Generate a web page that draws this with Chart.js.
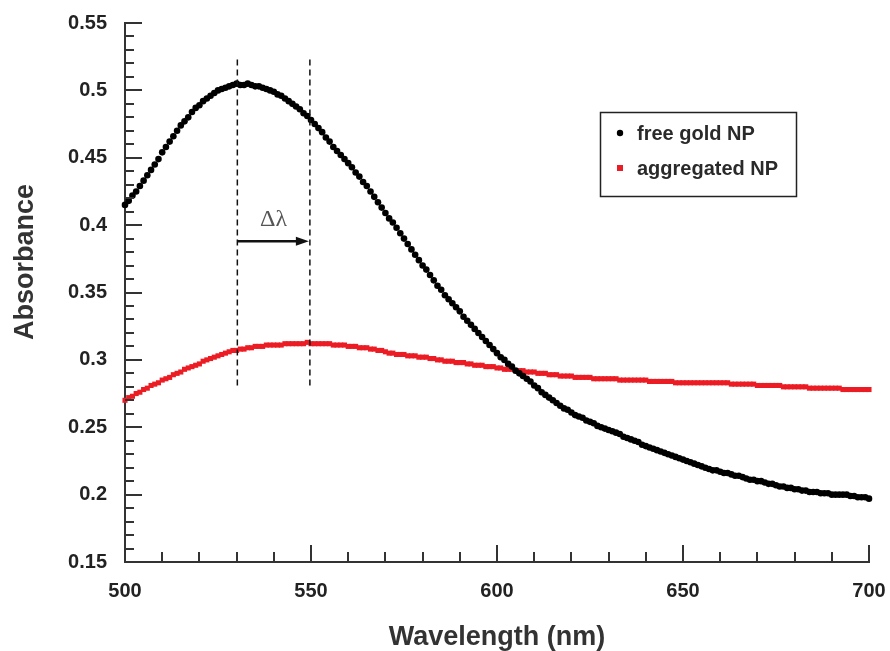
<!DOCTYPE html>
<html>
<head>
<meta charset="utf-8">
<title>Absorbance spectra</title>
<script src="https://cdn.jsdelivr.net/npm/chart.js@4.4.1/dist/chart.umd.min.js"></script>
<style>
  html, body { margin: 0; padding: 0; background: #fff; }
  canvas { display: block; }
</style>
</head>
<body>
<canvas id="spectrum" width="890" height="651"></canvas>
<script>
// one reading per nm, starting at 500 nm
var wavelengthStart = 500;

var freeGoldNP = [
  0.415, 0.418, 0.422, 0.425, 0.429, 0.433, 0.437, 0.441, 0.445, 0.449,
  0.454, 0.458, 0.462, 0.466, 0.470, 0.474, 0.477, 0.480, 0.484, 0.487,
  0.489, 0.492, 0.494, 0.496, 0.498, 0.500, 0.501, 0.502, 0.503, 0.504,
  0.505, 0.504, 0.504, 0.505, 0.504, 0.503, 0.503, 0.502, 0.501, 0.500,
  0.499, 0.497, 0.496, 0.494, 0.492, 0.490, 0.488, 0.486, 0.483, 0.481,
  0.478, 0.475, 0.472, 0.469, 0.465, 0.462, 0.458, 0.455, 0.452, 0.449,
  0.446, 0.443, 0.439, 0.436, 0.432, 0.429, 0.425, 0.421, 0.417, 0.413,
  0.409, 0.405, 0.402, 0.398, 0.394, 0.390, 0.386, 0.382, 0.378, 0.374,
  0.370, 0.367, 0.363, 0.359, 0.355, 0.352, 0.348, 0.345, 0.342, 0.339,
  0.336, 0.332, 0.329, 0.326, 0.323, 0.320, 0.317, 0.314, 0.311, 0.308,
  0.305, 0.302, 0.300, 0.297, 0.295, 0.292, 0.290, 0.288, 0.286, 0.284,
  0.281, 0.279, 0.276, 0.274, 0.272, 0.270, 0.268, 0.266, 0.264, 0.263,
  0.261, 0.259, 0.258, 0.257, 0.255, 0.254, 0.253, 0.251, 0.250, 0.249,
  0.248, 0.247, 0.246, 0.245, 0.243, 0.242, 0.241, 0.240, 0.239, 0.237,
  0.236, 0.235, 0.234, 0.233, 0.232, 0.231, 0.230, 0.229, 0.228, 0.227,
  0.226, 0.225, 0.224, 0.223, 0.222, 0.221, 0.220, 0.219, 0.218, 0.218,
  0.217, 0.216, 0.216, 0.215, 0.214, 0.214, 0.213, 0.212, 0.211, 0.211,
  0.210, 0.210, 0.209, 0.208, 0.208, 0.207, 0.206, 0.206, 0.205, 0.205,
  0.204, 0.204, 0.203, 0.203, 0.202, 0.202, 0.202, 0.201, 0.201, 0.201,
  0.200, 0.200, 0.200, 0.200, 0.200, 0.199, 0.199, 0.198, 0.198, 0.198,
  0.197
];

var aggregatedNP = [
  0.270, 0.272, 0.273, 0.275, 0.276, 0.278, 0.279, 0.281, 0.282, 0.283,
  0.285, 0.286, 0.287, 0.289, 0.290, 0.291, 0.293, 0.294, 0.295, 0.296,
  0.297, 0.299, 0.300, 0.301, 0.302, 0.303, 0.304, 0.305, 0.306, 0.307,
  0.307, 0.308, 0.308, 0.309, 0.309, 0.310, 0.310, 0.310, 0.311, 0.311,
  0.311, 0.311, 0.311, 0.312, 0.312, 0.312, 0.312, 0.312, 0.312, 0.313,
  0.312, 0.312, 0.312, 0.312, 0.312, 0.312, 0.311, 0.311, 0.311, 0.311,
  0.310, 0.310, 0.310, 0.309, 0.309, 0.309, 0.308, 0.308, 0.307, 0.307,
  0.306, 0.305, 0.305, 0.304, 0.304, 0.304, 0.303, 0.303, 0.303, 0.302,
  0.302, 0.302, 0.301, 0.301, 0.300, 0.300, 0.299, 0.299, 0.299, 0.298,
  0.298, 0.298, 0.297, 0.297, 0.296, 0.296, 0.296, 0.295, 0.295, 0.295,
  0.294, 0.294, 0.293, 0.293, 0.293, 0.292, 0.292, 0.292, 0.291, 0.291,
  0.291, 0.290, 0.290, 0.290, 0.289, 0.289, 0.289, 0.288, 0.288, 0.288,
  0.288, 0.287, 0.287, 0.287, 0.287, 0.287, 0.286, 0.286, 0.286, 0.286,
  0.286, 0.286, 0.286, 0.285, 0.285, 0.285, 0.285, 0.285, 0.285, 0.285,
  0.285, 0.284, 0.284, 0.284, 0.284, 0.284, 0.284, 0.284, 0.283, 0.283,
  0.283, 0.283, 0.283, 0.283, 0.283, 0.283, 0.283, 0.283, 0.283, 0.283,
  0.283, 0.283, 0.283, 0.282, 0.282, 0.282, 0.282, 0.282, 0.282, 0.282,
  0.281, 0.281, 0.281, 0.281, 0.281, 0.281, 0.281, 0.280, 0.280, 0.280,
  0.280, 0.280, 0.280, 0.280, 0.279, 0.279, 0.279, 0.279, 0.279, 0.279,
  0.279, 0.279, 0.279, 0.278, 0.278, 0.278, 0.278, 0.278, 0.278, 0.278,
  0.278
];

var xTickLabels = [500, 550, 600, 650, 700];
var yTickLabels = [0.15, 0.2, 0.25, 0.3, 0.35, 0.4, 0.45, 0.5, 0.55];

// peak positions marked by the dashed lines and the shift arrow
var peakFree = 530.2;
var peakAggregated = 549.7;

var labelFont = '"Liberation Sans", Arial, Helvetica, sans-serif';

function toPoints(values) {
    return values.map(function (v, i) {
        return { x: wavelengthStart + i, y: v };
    });
}

// small inward tick marks like the original plot
var insideTicks = {
    id: 'insideTicks',
    afterDatasetsDraw: function (chart) {
        var ctx = chart.ctx;
        var xs = chart.scales.x, ys = chart.scales.y;
        var area = chart.chartArea;
        ctx.save();
        ctx.strokeStyle = '#333';
        ctx.lineWidth = 2;
        ctx.beginPath();
        for (var w = 500; w <= 700; w += 10) {
            var px = Math.round(xs.getPixelForValue(w));
            var len = (w % 50 === 0) ? 17 : 10;
            ctx.moveTo(px, area.bottom);
            ctx.lineTo(px, area.bottom - len);
        }
        for (var k = 15; k <= 55; k++) {
            var py = Math.round(ys.getPixelForValue(k / 100));
            var l = (k % 5 === 0) ? 17 : 9;
            ctx.moveTo(area.left, py);
            ctx.lineTo(area.left + l, py);
        }
        ctx.stroke();
        ctx.restore();
    }
};

// dashed peak markers, arrow and delta-lambda label
var peakShift = {
    id: 'peakShift',
    afterDatasetsDraw: function (chart) {
        var ctx = chart.ctx;
        var xs = chart.scales.x, ys = chart.scales.y;
        var x1 = xs.getPixelForValue(peakFree);
        var x2 = xs.getPixelForValue(peakAggregated);
        var yTop = ys.getPixelForValue(0.523);
        var yBot = ys.getPixelForValue(0.278);
        ctx.save();
        ctx.strokeStyle = '#111';
        ctx.lineWidth = 1.5;
        ctx.setLineDash([6, 4]);
        ctx.beginPath();
        ctx.moveTo(x1, yTop); ctx.lineTo(x1, yBot);
        ctx.moveTo(x2, yTop); ctx.lineTo(x2, yBot);
        ctx.stroke();
        ctx.setLineDash([]);

        var ya = ys.getPixelForValue(0.388);
        ctx.lineWidth = 2.5;
        ctx.beginPath();
        ctx.moveTo(x1, ya);
        ctx.lineTo(x2 - 10, ya);
        ctx.stroke();
        ctx.fillStyle = '#111';
        ctx.beginPath();
        ctx.moveTo(x2 - 1, ya);
        ctx.lineTo(x2 - 14, ya - 4.5);
        ctx.lineTo(x2 - 14, ya + 4.5);
        ctx.closePath();
        ctx.fill();

        ctx.fillStyle = '#555';
        ctx.font = '24px "Liberation Serif", "Times New Roman", serif';
        ctx.textAlign = 'center';
        ctx.textBaseline = 'alphabetic';
        ctx.fillText('\u0394\u03bb', (x1 + x2) / 2, 226);
        ctx.restore();
    }
};

// y axis title sits a bit above the middle of the axis in the original
var yTitle = {
    id: 'yTitle',
    afterDraw: function (chart) {
        var ctx = chart.ctx;
        ctx.save();
        ctx.translate(33, 262);
        ctx.rotate(-Math.PI / 2);
        ctx.font = 'bold 27px ' + labelFont;
        ctx.fillStyle = '#333';
        ctx.textAlign = 'center';
        ctx.textBaseline = 'alphabetic';
        ctx.fillText('Absorbance', 0, 0);
        ctx.restore();
    }
};

// boxed legend inside the plot
var legendBox = {
    id: 'legendBox',
    afterDraw: function (chart) {
        var ctx = chart.ctx;
        ctx.save();
        ctx.strokeStyle = '#222';
        ctx.lineWidth = 1.5;
        ctx.strokeRect(600.5, 112.5, 196, 84);
        ctx.font = 'bold 20px ' + labelFont;
        ctx.textBaseline = 'alphabetic';
        ctx.textAlign = 'left';
        chart.data.datasets.forEach(function (ds, i) {
            var cy = 133 + i * 35;
            ctx.fillStyle = ds.backgroundColor;
            if (ds.pointStyle === 'rect') {
                ctx.fillRect(617, cy - 3, 6, 6);
            } else {
                ctx.beginPath();
                ctx.arc(620, cy, 3.2, 0, Math.PI * 2);
                ctx.fill();
            }
            ctx.fillStyle = '#2a2a2a';
            ctx.fillText(ds.label, 637, cy + 7);
        });
        ctx.restore();
    }
};

var ctx = document.getElementById('spectrum').getContext('2d');
var spectrumChart = new Chart(ctx, {
    type: 'scatter',
    data: {
        datasets: [{
            label: 'free gold NP',
            data: toPoints(freeGoldNP),
            backgroundColor: '#000',
            borderColor: '#000',
            pointStyle: 'circle',
            pointRadius: 3.3,
            pointBorderWidth: 0,
            showLine: false,
            clip: false
        }, {
            label: 'aggregated NP',
            data: toPoints(aggregatedNP),
            backgroundColor: '#ec1c24',
            borderColor: '#ec1c24',
            pointStyle: 'rect',
            pointRadius: 3.6,
            pointBorderWidth: 0,
            showLine: false,
            clip: false
        }]
    },
    options: {
        responsive: false,
        animation: false,
        events: [],
        layout: {
            padding: { left: 0, top: 23, right: 21, bottom: 0 }
        },
        plugins: {
            legend: { display: false },
            tooltip: { enabled: false }
        },
        scales: {
            x: {
                type: 'linear',
                min: 500,
                max: 700,
                afterBuildTicks: function (scale) {
                    scale.ticks = xTickLabels.map(function (v) { return { value: v }; });
                },
                afterFit: function (scale) {
                    scale.height = 89;
                    scale.paddingLeft = 0;
                    scale.paddingRight = 0;
                },
                grid: { display: false, drawTicks: false },
                border: { display: true, color: '#333', width: 2 },
                ticks: {
                    padding: 17,
                    color: '#222',
                    maxRotation: 0,
                    font: { family: labelFont, size: 20, weight: 'bold' }
                },
                title: {
                    display: true,
                    text: 'Wavelength (nm)',
                    color: '#333',
                    padding: { top: 0, bottom: 0 },
                    font: { family: labelFont, size: 27, weight: 'bold', lineHeight: 1 }
                }
            },
            y: {
                type: 'linear',
                min: 0.15,
                max: 0.55,
                afterBuildTicks: function (scale) {
                    scale.ticks = yTickLabels.map(function (v) { return { value: v }; });
                },
                afterFit: function (scale) {
                    scale.width = 125;
                    scale.paddingTop = 0;
                    scale.paddingBottom = 0;
                },
                grid: { display: false, drawTicks: false },
                border: { display: true, color: '#333', width: 2 },
                ticks: {
                    padding: 18,
                    color: '#222',
                    font: { family: labelFont, size: 20, weight: 'bold' },
                    callback: function (v) { return String(+v.toFixed(2)); }
                }
            }
        }
    },
    plugins: [insideTicks, peakShift, yTitle, legendBox]
});
</script>
</body>
</html>
